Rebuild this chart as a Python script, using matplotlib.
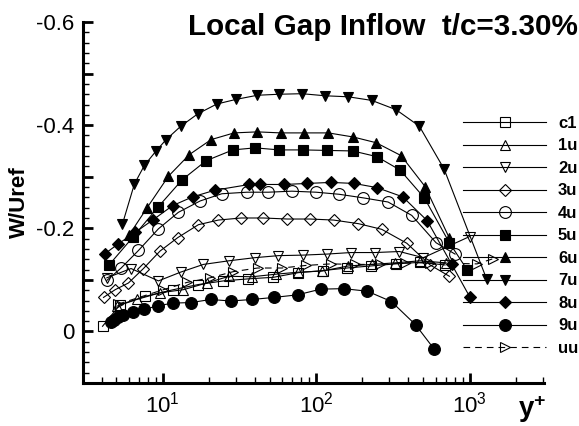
import numpy as np
import matplotlib
matplotlib.use('Agg')
import matplotlib.pyplot as plt
from matplotlib.ticker import MultipleLocator, FuncFormatter, LogLocator

plt.rcParams['font.family'] = ['Liberation Sans', 'DejaVu Sans']
plt.rcParams['mathtext.fontset'] = 'custom'
plt.rcParams['mathtext.rm'] = 'Liberation Sans'
plt.rcParams['mathtext.bf'] = 'Liberation Sans:bold'

# y+ and W/Uref values
c1_x = [4.06, 5.28, 7.69, 11.76, 17.11, 24.9, 36.22, 52.71, 76.68, 110.6, 158.5, 227.2, 329.6, 473.8, 692.7]
c1_y = [-0.010, -0.052, -0.068, -0.081, -0.091, -0.098, -0.102, -0.105, -0.114, -0.118, -0.123, -0.127, -0.131, -0.134, -0.129]

u1_x = [5.03, 6.79, 9.63, 13.66, 19.41, 27.12, 38.11, 54.72, 76.68, 108.9, 162.3, 230.7, 327.1, 476.0, 703.0]
u1_y = [-0.049, -0.062, -0.075, -0.081, -0.094, -0.107, -0.106, -0.111, -0.115, -0.117, -0.127, -0.130, -0.133, -0.137, -0.133]

u2_x = [4.33, 6.23, 9.39, 13.10, 18.45, 27.03, 39.74, 56.81, 81.92, 117.4, 168.3, 242.3, 348.9, 500.0, 1000.0]
u2_y = [-0.104, -0.122, -0.098, -0.115, -0.130, -0.137, -0.143, -0.147, -0.148, -0.150, -0.153, -0.153, -0.155, -0.143, -0.184]

u3_x = [4.12, 4.91, 5.99, 7.50, 9.63, 12.56, 17.11, 23.10, 32.47, 45.36, 65.01, 91.41, 130.0, 188.7, 267.9, 390.0, 553.0, 738.8]
u3_y = [-0.066, -0.081, -0.094, -0.122, -0.156, -0.182, -0.207, -0.216, -0.220, -0.220, -0.218, -0.218, -0.216, -0.209, -0.198, -0.171, -0.129, -0.107]

u4_x = [4.33, 5.37, 6.96, 9.39, 12.67, 17.55, 24.31, 35.37, 48.91, 69.46, 100.0, 141.2, 203.3, 294.4, 420.2, 605.1, 804.5]
u4_y = [-0.099, -0.123, -0.157, -0.199, -0.231, -0.253, -0.267, -0.270, -0.270, -0.272, -0.270, -0.266, -0.259, -0.251, -0.225, -0.172, -0.150]

u5_x = [4.48, 6.45, 9.39, 13.40, 19.20, 28.67, 40.04, 57.67, 82.66, 118.5, 173.4, 248.6, 352.6, 507.5, 738.8, 963.2]
u5_y = [-0.129, -0.184, -0.242, -0.294, -0.331, -0.352, -0.356, -0.352, -0.352, -0.351, -0.350, -0.339, -0.313, -0.259, -0.172, -0.120]

u6_x = [6.05, 7.93, 10.91, 14.95, 20.70, 29.23, 41.45, 58.88, 83.91, 120.3, 175.0, 246.0, 357.9, 512.9, 738.8]
u6_y = [-0.187, -0.240, -0.301, -0.343, -0.372, -0.385, -0.387, -0.385, -0.385, -0.385, -0.377, -0.366, -0.341, -0.281, -0.181]

u7_x = [5.47, 6.55, 7.61, 9.07, 10.54, 13.14, 16.96, 22.55, 30.12, 41.45, 57.67, 81.06, 114.4, 162.3, 230.7, 332.1, 470.9, 682.4, 1294.5]
u7_y = [-0.208, -0.286, -0.322, -0.350, -0.372, -0.398, -0.422, -0.441, -0.450, -0.458, -0.460, -0.461, -0.457, -0.455, -0.448, -0.430, -0.398, -0.315, -0.101]

u8_x = [4.22, 5.15, 6.62, 8.71, 11.62, 15.68, 21.98, 36.77, 43.16, 61.87, 87.77, 124.7, 176.9, 248.6, 367.1, 529.0, 765.6, 1007.6]
u8_y = [-0.151, -0.170, -0.192, -0.217, -0.244, -0.261, -0.274, -0.285, -0.285, -0.285, -0.287, -0.289, -0.287, -0.279, -0.261, -0.215, -0.130, -0.066]

u9_x = [4.62, 4.85, 5.15, 5.56, 6.45, 7.61, 9.39, 11.71, 15.34, 20.54, 27.82, 38.29, 53.27, 75.77, 106.97, 151.1, 215.9, 309.5, 444.8, 587.1]
u9_y = [-0.018, -0.023, -0.028, -0.031, -0.038, -0.043, -0.050, -0.055, -0.056, -0.062, -0.059, -0.062, -0.066, -0.071, -0.082, -0.083, -0.078, -0.058, -0.013, 0.034]

uu_x = [5.13, 10.12, 14.38, 20.39, 28.93, 41.57, 59.77, 86.08, 124.7, 179.6, 261.2, 380.0, 553.0, 1119.0, 1422.6]
uu_y = [-0.053, -0.081, -0.095, -0.104, -0.116, -0.123, -0.123, -0.128, -0.131, -0.130, -0.130, -0.133, -0.133, -0.131, -0.141]

series = [
    ('c1', c1_x, c1_y, 's', 'none', '-'),
    ('1u', u1_x, u1_y, '^', 'none', '-'),
    ('2u', u2_x, u2_y, 'v', 'none', '-'),
    ('3u', u3_x, u3_y, 'D', 'none', '-'),
    ('4u', u4_x, u4_y, 'o', 'none', '-'),
    ('5u', u5_x, u5_y, 's', 'black', '-'),
    ('6u', u6_x, u6_y, '^', 'black', '-'),
    ('7u', u7_x, u7_y, 'v', 'black', '-'),
    ('8u', u8_x, u8_y, 'D', 'black', '-'),
    ('9u', u9_x, u9_y, 'o', 'black', '-'),
    ('uu', uu_x, uu_y, '>', 'none', (0, (6, 4.5))),
]
msize = {'s': 6.5, '^': 7.5, 'v': 7.5, 'D': 6, 'o': 8.5, '>': 7.5}

fig = plt.figure(figsize=(5.79, 4.26), dpi=100)
ax = fig.add_axes([0.1434, 0.1009, 0.7962, 0.8474])

for name, xs, ys, mk, fc, ls in series:
    ax.plot(xs, ys, color='black', lw=0.8, ls=ls, marker=mk, ms=msize[mk],
            mfc=fc, mec='black', mew=0.8, label=name, clip_on=False)

ax.set_xscale('log')
ax.set_xlim(3.03, 3057)
ax.set_ylim(0.1, -0.6)

ax.spines['top'].set_visible(False)
ax.spines['right'].set_visible(False)
ax.spines['left'].set_linewidth(2.2)
ax.spines['bottom'].set_linewidth(2.2)

ax.yaxis.set_major_locator(MultipleLocator(0.1))
ax.yaxis.set_minor_locator(MultipleLocator(0.02))

def yfmt(v, pos):
    k = int(round(v * 10))
    if k % 2 != 0:
        return ''
    if k == 0:
        return '0'
    return '%.1f' % v
ax.yaxis.set_major_formatter(FuncFormatter(yfmt))
ax.xaxis.set_major_locator(LogLocator(base=10))
ax.xaxis.set_minor_locator(LogLocator(base=10, subs=np.arange(2, 10)))

ax.tick_params(which='major', direction='in', length=7, width=2, labelsize=16, pad=6)
ax.tick_params(which='minor', direction='in', length=4, width=1)
ax.tick_params(top=False, right=False, which='both')

ax.set_ylabel('W/Uref', fontsize=16, fontweight='bold')
ax.yaxis.set_label_coords(-0.115, 0.5)
fig.text(0.325, 0.918, 'Local Gap Inflow  t/c=3.30%', fontsize=21.3, fontweight='bold',
         ha='left', va='baseline')
fig.text(0.8946, 0.021, r'$\mathbf{y^{+}}$', fontsize=20, ha='left', va='baseline')

leg = ax.legend(loc='upper left', bbox_to_anchor=(0.7997, 0.728), bbox_transform=fig.transFigure,
                frameon=False, numpoints=1, handlelength=5.0, handletextpad=0.7,
                labelspacing=0.45, borderpad=0, borderaxespad=0,
                prop={'weight': 'bold', 'size': 12})

fig.savefig('out.png', dpi=100)
